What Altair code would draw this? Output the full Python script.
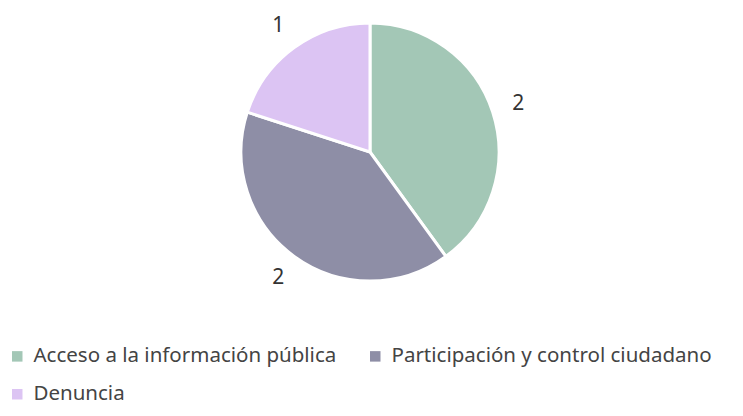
import altair as alt
import pandas as pd

categories = ["Acceso a la información pública", "Participación y control ciudadano", "Denuncia"]
values = [2, 2, 1]
colors = ["#a3c7b6", "#8e8ea6", "#dcc4f3"]

df = pd.DataFrame({"cat": categories, "val": values, "idx": list(range(len(categories)))})

font = "Source Sans Pro, Noto Sans, sans-serif"

base = alt.Chart(df).encode(
    theta=alt.Theta("val:Q", stack=True),
    order=alt.Order("idx:Q"),
)

arcs = base.mark_arc(outerRadius=129, stroke="white", strokeWidth=3).encode(
    x=alt.value(362),
    y=alt.value(144),
    color=alt.Color(
        "cat:N",
        scale=alt.Scale(domain=categories, range=colors),
        sort=categories,
        legend=alt.Legend(
            title=None,
            orient="none",
            legendX=-1,
            legendY=338,
            padding=0,
            direction="horizontal",
            columns=2,
            symbolType="square",
            symbolSize=110,
            symbolStrokeWidth=0,
            labelFont=font,
            labelFontSize=20.5,
            labelColor="#444444",
            labelLimit=400,
            columnPadding=28,
            rowPadding=17,
            symbolOffset=0,
            labelOffset=6,
        ),
    ),
)
labels = base.mark_text(radius=156, fontSize=21, font=font, color="#333333").encode(
    text=alt.Text("val:Q"), x=alt.value(362), y=alt.value(144)
)

chart = (
    alt.layer(arcs, labels)
    .properties(width=727, height=400, padding=0, autosize=alt.AutoSizeParams(type="none"))
    .configure_view(stroke=None)
)

chart.save("out.html", embed_options={"renderer": "svg", "actions": False})
